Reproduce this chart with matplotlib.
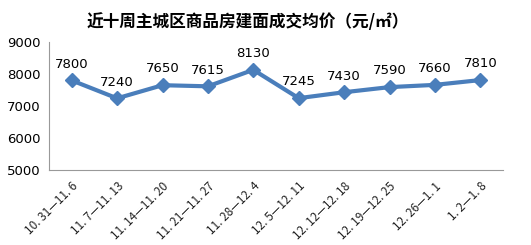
import matplotlib
matplotlib.use("Agg")
import matplotlib.pyplot as plt

plt.rcParams['font.family'] = ['Noto Sans CJK SC', 'DejaVu Sans']

categories = ["10.31-11.6", "11.7-11.13", "11.14-11.20", "11.21-11.27", "11.28-12.4",
              "12.5-12.11", "12.12-12.18", "12.19-12.25", "12.26-1.1", "1.2-1.8"]
values = [7800, 7240, 7650, 7615, 8130, 7245, 7430, 7590, 7660, 7810]
yticks = [5000, 6000, 7000, 8000, 9000]
title = "近十周主城区商品房建面成交均价（元/㎡）"

fig = plt.figure(figsize=(5.31, 2.45), dpi=100)
ax = fig.add_axes([49/531, 1-170/245, (503-49)/531, (170-42)/245])
x = list(range(len(categories)))
color = "#4A7EBB"
ax.plot(x, values, color=color, lw=3, marker="D", ms=7, mfc=color, mec=color)
for xi, v in zip(x, values):
    ax.annotate(f"{v}", (xi, v), xytext=(0, 7), textcoords="offset points",
                ha="center", va="bottom", fontsize=9.5, family="DejaVu Sans")
ax.set_xlim(-0.5, len(categories) - 0.5)
ax.set_ylim(5000, 9000)
ax.set_yticks(yticks)
ax.set_yticklabels([str(t) for t in yticks], fontsize=9.5, family="DejaVu Sans")
ax.set_xticks(x)
ax.set_xticklabels([c.replace(".", ". ").replace("-", "—") for c in categories],
                   rotation=45, ha="right", rotation_mode="anchor", fontsize=8.5, color="#222222")
ax.tick_params(length=0, pad=6)
ax.tick_params(axis="x", pad=7)
for s in ["top", "right"]:
    ax.spines[s].set_visible(False)
for s in ["left", "bottom"]:
    ax.spines[s].set_color("#999999")
fig.text(248/531, 1-22/245, title, ha="center", va="center", fontsize=12, fontweight="bold")
fig.savefig("out.png", dpi=100, facecolor="white")
